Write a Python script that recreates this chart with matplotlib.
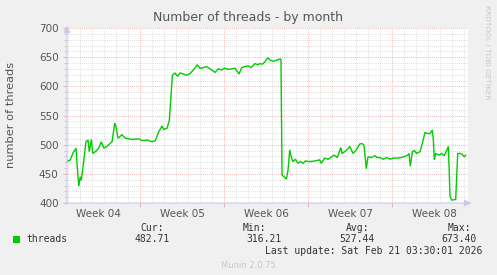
import matplotlib
matplotlib.use("Agg")
import matplotlib.pyplot as plt
import numpy as np

# ---- data ----
days = [0.00, 0.28, 0.48, 0.75, 0.83, 0.98, 1.11, 1.19, 1.39, 1.58, 1.75, 1.86, 2.03, 2.14,
        2.36, 2.64, 2.86, 3.06, 3.33, 3.75, 3.98, 4.08, 4.25, 4.58, 4.86, 5.42, 5.98, 6.25,
        6.67, 7.08, 7.36, 7.64, 7.92, 8.06, 8.33, 8.53, 8.69, 8.78, 9.00, 9.22, 9.42, 9.69,
        9.97, 10.25, 10.53, 10.86, 11.08, 11.36, 11.64, 11.92, 12.19, 12.33, 12.61, 12.89,
        13.11, 13.44, 13.72, 14.00, 14.22, 14.33, 14.56, 14.83, 15.11, 15.33, 15.67, 15.89,
        16.08, 16.28, 16.50, 16.72, 16.92, 17.19, 17.47, 17.75, 17.83, 17.92, 18.08, 18.28,
        18.42, 18.56, 18.69, 18.83, 19.03, 19.25, 19.47, 19.67, 19.86, 20.22, 20.64, 21.06,
        21.19, 21.47, 21.75, 22.03, 22.25, 22.53, 22.81, 22.92, 23.14, 23.42, 23.56, 23.83,
        24.11, 24.39, 24.58, 24.75, 24.94, 25.08, 25.36, 25.64, 25.86, 26.08, 26.36, 26.64,
        26.92, 27.19, 27.61, 28.03, 28.39, 28.50, 28.61, 28.78, 28.94, 29.14, 29.42, 29.61,
        29.83, 30.06, 30.25, 30.44, 30.53, 30.61, 30.72, 31.00, 31.22, 31.42, 31.56, 31.78,
        31.92, 32.06, 32.39, 32.56, 32.75, 32.94, 33.11, 33.22]
threads = [471, 474, 485, 494, 468, 429, 445, 439, 471, 505, 508, 488, 509, 485,
           488, 494, 505, 494, 497, 505, 537, 531, 511, 517, 511, 509, 510, 507,
           508, 505, 507, 522, 532, 526, 528, 542, 590, 619, 623, 617, 623, 621,
           619, 622, 628, 637, 631, 632, 634, 630, 626, 624, 630, 628,
           631, 629, 630, 631, 625, 621, 632, 634, 635, 632, 639, 637,
           639, 638, 642, 649, 645, 643, 645, 647, 646, 448, 445, 441,
           457, 491, 479, 471, 475, 468, 471, 468, 472, 471, 472, 474,
           468, 477, 475, 479, 482, 478, 495, 485, 488, 493, 497, 485,
           491, 501, 502, 499, 459, 479, 478, 481, 478, 478, 475, 478,
           475, 477, 477, 479, 482, 485, 463, 488, 490, 485, 488, 502,
           521, 519, 519, 525, 508, 474, 485, 482, 485, 481, 486, 497,
           411, 405, 406, 485, 485, 483, 479, 482]

week_labels = ["Week 04", "Week 05", "Week 06", "Week 07", "Week 08"]
week_starts = [6.08, 13.08, 20.08, 27.08]
y_ticks = [400, 450, 500, 550, 600, 650, 700]

legend_name = "threads"
stats_names = ["Cur:", "Min:", "Avg:", "Max:"]
stats_values = ["482.71", "316.21", "527.44", "673.40"]
last_update = "Last update: Sat Feb 21 03:30:01 2026"
title = "Number of threads - by month"
ylabel = "number of threads"

# ---- figure ----
W, H = 497, 275
fig = plt.figure(figsize=(W / 100, H / 100), dpi=100, facecolor="#f0f0f0")
L, T, R, B = 67, 28, 468, 203
ax = fig.add_axes([L / W, 1 - B / H, (R - L) / W, (B - T) / H])
ax.set_facecolor("white")

xmax = (R - L) / 12.0
ax.set_xlim(0, xmax)
ax.set_ylim(400, 700)

grid_minor = "#d4d4d4"
grid_major = "#e8a3a3"
dot = (0, (1, 1.5))
for yv in range(400, 701, 10):
    if yv % 50 == 0:
        continue
    ax.axhline(yv, color=grid_minor, lw=0.6, ls=dot, zorder=1)
for yv in range(450, 701, 50):
    ax.axhline(yv, color=grid_major, lw=0.6, ls=dot, zorder=1.5)
day_lines = np.arange(0.08, xmax, 1.0)
for xv in day_lines:
    if any(abs(xv - w) < 1e-6 for w in week_starts):
        continue
    ax.axvline(xv, color=grid_minor, lw=0.6, ls=dot, zorder=1)
for xv in week_starts:
    ax.axvline(xv, color=grid_major, lw=0.6, ls=dot, zorder=1.5)

ax.plot(days, threads, color="#00cc00", lw=1.0, zorder=3, solid_joinstyle="miter")

for s in ax.spines.values():
    s.set_visible(False)

axis_col = "#c8c8f0"
ax.annotate("", xy=(1 + 6 / (R - L), 0), xytext=(-5 / (R - L), 0), xycoords="axes fraction",
            arrowprops=dict(arrowstyle="-|>,head_length=0.4,head_width=0.2", color=axis_col, lw=0.8),
            annotation_clip=False, zorder=5)
ax.annotate("", xy=(0, 1 + 5 / (B - T)), xytext=(0, -4 / (B - T)), xycoords="axes fraction",
            arrowprops=dict(arrowstyle="-|>,head_length=0.4,head_width=0.2", color=axis_col, lw=0.8),
            annotation_clip=False, zorder=5)

txt = "#555555"
ax.set_yticks(y_ticks)
ax.set_yticklabels([str(v) for v in y_ticks], fontsize=7.5, color=txt)
ax.set_yticks(range(400, 701, 10), minor=True)
ax.tick_params(axis="y", which="major", length=3, width=0.6, color=grid_major, pad=3)
ax.tick_params(axis="y", which="minor", length=2, width=0.5, color="#bbbbbb")

centers = [w - 3.5 for w in week_starts] + [week_starts[-1] + 3.5]
ax.set_xticks(week_starts)
ax.set_xticklabels([""] * len(week_starts))
ax.set_xticks(centers, minor=True)
ax.set_xticklabels(week_labels, minor=True, fontsize=7.5, color=txt)
ax.tick_params(axis="x", which="major", length=3, width=0.6, color=grid_major)
ax.tick_params(axis="x", which="minor", length=0, pad=4)

fig.text(248 / W, 1 - 18 / H, title, ha="center", va="center", fontsize=9, color=txt)
fig.text(11 / W, 1 - 115 / H, ylabel, ha="center", va="center", rotation=90, fontsize=8.2, color=txt)
fig.text(487 / W, 1 - 5 / H, "RRDTOOL / TOBI OETIKER", ha="center", va="top", rotation=270,
         fontsize=5.3, color="#c8c8c8")

mono = "DejaVu Sans Mono"
fig.patches.append(plt.Rectangle((13 / W, 1 - 243 / H), 7 / W, 7 / H, transform=fig.transFigure,
                                 facecolor="#00cc00", edgecolor="none"))
fig.text(26 / W, 1 - 239.5 / H, legend_name, ha="left", va="center", fontsize=7, family=mono, color="#333333")
hdr_right = [164, 266, 369, 471]
val_right = [170, 282, 375, 477]
for n, v, hx, vx in zip(stats_names, stats_values, hdr_right, val_right):
    fig.text(hx / W, 1 - 228 / H, n, ha="right", va="center", fontsize=7, family=mono, color="#333333")
    fig.text(vx / W, 1 - 239.5 / H, v, ha="right", va="center", fontsize=7, family=mono, color="#333333")
fig.text(482 / W, 1 - 251 / H, last_update, ha="right", va="center", fontsize=7, family=mono, color="#333333")
fig.text(248 / W, 1 - 266 / H, "Munin 2.0.75", ha="center", va="center", fontsize=6, color="#c8c8c8")

fig.savefig("out.png", dpi=100, facecolor=fig.get_facecolor())
